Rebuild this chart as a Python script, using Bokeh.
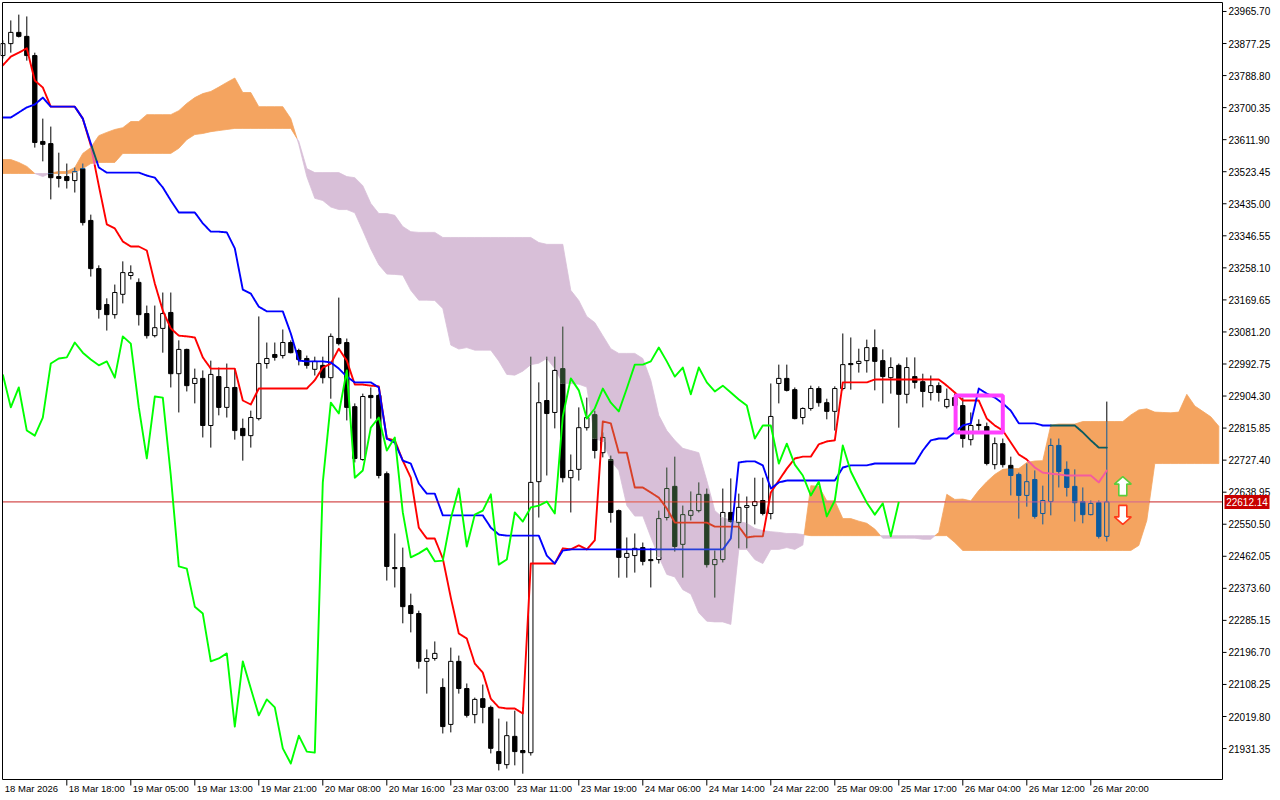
import numpy as np
from bokeh.plotting import figure
from bokeh.models import Range1d
from bokeh.embed import file_html
from bokeh.resources import INLINE
from bokeh.core.properties import value

# ---------------- data (H1 bars, index 0 = 18 Mar 2026) ----------------
opens = [23844, 23877, 23908, 23897, 23844, 23607, 23601, 23510, 23510, 23499,
         23532, 23389, 23256, 23157, 23129, 23185, 23237, 23218, 23132, 23071,
         23091, 23135, 22966, 23033, 22939, 22953, 22823, 22958, 22873, 22928,
         22815, 22795, 22842, 22994, 23019, 23016, 23052, 23030, 23008, 22978,
         22989, 22955, 23063, 23052, 22875, 22729, 22906, 22906, 22690, 22431,
         22431, 22326, 22304, 22172, 22180, 22100, 21998, 22172, 22097, 22025,
         22069, 22045, 21923, 21887, 21965, 21926, 21920, 22668, 22892, 22859,
         22980, 22679, 22702, 22817, 22853, 22748, 22729, 22588, 22459, 22464,
         22486, 22453, 22453, 22569, 22655, 22495, 22575, 22588, 22633, 22439,
         22453, 22583, 22555, 22597, 22602, 22616, 22580, 22939, 22953, 22922,
         22845, 22870, 22925, 22886, 22862, 22925, 22994, 22994, 23002, 23038,
         23002, 22955, 22989, 22909, 22958, 22944, 22914, 22933, 22875, 22900,
         22878, 22784, 22826, 22820, 22715, 22773, 22713, 22688, 22630, 22674,
         22580, 22613, 22768, 22702, 22655, 22613, 22577, 22610, 22517]
highs = [23886, 23941, 23957, 23952, 23852, 23670, 23648, 23576, 23546, 23535,
         23546, 23405, 23265, 23174, 23212, 23276, 23265, 23229, 23154, 23154,
         23190, 23190, 23058, 23035, 22980, 22975, 23002, 22983, 22994, 22980,
         22842, 22864, 23124, 23052, 23052, 23088, 23058, 23035, 23016, 23013,
         23013, 23077, 23176, 23063, 22884, 22911, 22928, 22911, 22696, 22525,
         22486, 22359, 22312, 22205, 22227, 22125, 22210, 22188, 22111, 22072,
         22108, 22050, 22014, 22006, 22036, 22045, 23013, 22942, 23013, 23013,
         23096, 22743, 22873, 22900, 22864, 22804, 22740, 22591, 22514, 22525,
         22500, 22484, 22588, 22707, 22737, 22602, 22641, 22666, 22649, 22478,
         22649, 22677, 22635, 22627, 22679, 22679, 22939, 22991, 22991, 22928,
         22873, 22933, 22931, 22897, 22931, 23077, 23066, 23035, 23060, 23088,
         23033, 23011, 22994, 23011, 23011, 22966, 22961, 22942, 22925, 22911,
         22900, 22859, 22840, 22831, 22790, 22787, 22737, 22693, 22718, 22699,
         22657, 22787, 22787, 22724, 22702, 22652, 22616, 22616, 22889]
lows = [23836, 23852, 23894, 23830, 23590, 23552, 23447, 23480, 23477, 23466,
        23375, 23234, 23118, 23085, 23118, 23160, 23226, 23099, 23063, 23066,
        23024, 22928, 22859, 22917, 22884, 22790, 22762, 22851, 22845, 22784,
        22726, 22762, 22837, 22980, 23002, 23008, 23022, 22989, 22980, 22961,
        22939, 22897, 23044, 22837, 22721, 22726, 22842, 22677, 22395, 22376,
        22277, 22252, 22152, 22083, 22174, 21973, 21976, 22083, 22017, 22001,
        22001, 21918, 21871, 21876, 21885, 21862, 21912, 22569, 22685, 22815,
        22666, 22583, 22671, 22809, 22732, 22735, 22555, 22403, 22403, 22417,
        22437, 22376, 22442, 22561, 22475, 22403, 22561, 22583, 22431, 22348,
        22445, 22555, 22484, 22484, 22550, 22575, 22564, 22884, 22917, 22840,
        22826, 22864, 22875, 22840, 22809, 22920, 22922, 22969, 22969, 22920,
        22884, 22911, 22817, 22884, 22925, 22873, 22892, 22889, 22870, 22870,
        22762, 22768, 22809, 22713, 22702, 22707, 22630, 22566, 22599, 22566,
        22550, 22575, 22652, 22627, 22558, 22553, 22575, 22511, 22503]
closes = [23877, 23908, 23897, 23844, 23604, 23599, 23507, 23505, 23499, 23524,
          23383, 23256, 23143, 23129, 23190, 23245, 23245, 23129, 23071, 23093,
          23132, 22966, 23033, 22933, 22953, 22823, 22964, 22873, 22928, 22809,
          22795, 22845, 22994, 23008, 23011, 23052, 23024, 23005, 22989, 23000,
          22955, 23069, 23049, 22873, 22732, 22903, 22900, 22685, 22434, 22428,
          22323, 22304, 22172, 22180, 22194, 21992, 22172, 22097, 22023, 22067,
          22045, 21932, 21890, 21967, 21923, 21920, 22666, 22886, 22856, 22975,
          22679, 22699, 22817, 22845, 22754, 22790, 22583, 22459, 22470, 22484,
          22448, 22450, 22566, 22649, 22489, 22577, 22588, 22633, 22439, 22453,
          22583, 22558, 22597, 22602, 22613, 22580, 22848, 22953, 22920, 22842,
          22870, 22925, 22886, 22862, 22925, 22991, 22991, 23000, 23038, 23000,
          22958, 22983, 22909, 22983, 22942, 22917, 22933, 22914, 22895, 22878,
          22787, 22823, 22823, 22718, 22773, 22715, 22685, 22630, 22668, 22572,
          22616, 22768, 22696, 22652, 22610, 22577, 22608, 22517, 22612.14]
tenkan = [23817, 23841, 23852, 23864, 23775, 23756, 23703, 23703, 23703, 23703,
          23670, 23596, 23485, 23378, 23367, 23331, 23317, 23317, 23306, 23215,
          23140, 23091, 23071, 23069, 23066, 23011, 22980, 22980, 22980, 22980,
          22892, 22881, 22925, 22925, 22925, 22925, 22925, 22925, 22925, 22948,
          22983, 22994, 23035, 23002, 22936, 22936, 22933, 22931, 22787, 22782,
          22726, 22679, 22541, 22511, 22511, 22456, 22348, 22249, 22235, 22166,
          22141, 22069, 22045, 22042, 22042, 22028, 22442, 22442, 22442, 22442,
          22484, 22481, 22492, 22481, 22506, 22834, 22829, 22748, 22748, 22652,
          22652, 22638, 22624, 22594, 22555, 22555, 22555, 22555, 22555, 22544,
          22544, 22544, 22544, 22514, 22517, 22517, 22638, 22671, 22704, 22732,
          22737, 22737, 22771, 22779, 22782, 22942, 22942, 22942, 22942, 22950,
          22950, 22950, 22950, 22950, 22950, 22950, 22950, 22950, 22933, 22914,
          22892, 22892, 22892, 22842, 22823, 22809, 22776, 22743, 22729, 22707,
          22693, 22690, 22688, 22685, 22685, 22685, 22685, 22666, 22699]
kijun = [23673, 23673, 23687, 23701, 23709, 23728, 23703, 23703, 23703, 23703,
         23670, 23601, 23535, 23521, 23521, 23521, 23521, 23521, 23513, 23507,
         23480, 23444, 23411, 23411, 23411, 23381, 23358, 23358, 23356, 23312,
         23198, 23187, 23151, 23138, 23138, 23138, 23077, 23002, 23000, 23000,
         23000, 22997, 22980, 22958, 22942, 22942, 22942, 22928, 22787, 22776,
         22726, 22718, 22663, 22635, 22635, 22575, 22575, 22575, 22575, 22575,
         22575, 22541, 22522, 22519, 22519, 22519, 22519, 22519, 22464, 22442,
         22478, 22481, 22481, 22481, 22481, 22481, 22481, 22481, 22481, 22481,
         22481, 22481, 22481, 22481, 22481, 22481, 22481, 22481, 22481, 22481,
         22481, 22511, 22721, 22724, 22724, 22713, 22649, 22666, 22671, 22671,
         22671, 22671, 22671, 22671, 22671, 22707, 22713, 22713, 22713, 22718,
         22718, 22718, 22718, 22718, 22718, 22754, 22782, 22787, 22787, 22804,
         22823, 22829, 22925, 22911, 22900, 22884, 22864, 22829, 22829, 22829,
         22823, 22823, 22823, 22823, 22823, 22804, 22782, 22762, 22762]
# Senkou spans, already displaced 26 bars forward (153 positions)
span_a = [23557, 23557, 23549, 23538, 23518.5, 23510, 23520, 23524, 23524, 23535,
          23574, 23590, 23623, 23632, 23640, 23645, 23662, 23662, 23681, 23681,
          23681, 23681, 23692, 23712, 23728, 23739, 23745, 23757, 23770, 23782,
          23742, 23742, 23703, 23703, 23703, 23703, 23670, 23599, 23510, 23450,
          23444, 23426, 23419, 23419, 23410, 23361, 23310, 23267, 23241, 23240,
          23238, 23196, 23169, 23169, 23168, 23146, 23045, 23034, 23038, 23031,
          23031, 23031, 23001, 22964, 22962, 22973, 22991, 22995, 23008, 22980,
          22939, 22939, 22937, 22929, 22787, 22779, 22726, 22699, 22602, 22573,
          22573, 22515, 22461, 22412, 22405, 22370, 22358, 22306, 22283, 22281,
          22281, 22274, 22481, 22481, 22453, 22442, 22481, 22481, 22486, 22481,
          22493, 22657, 22655, 22615, 22615, 22566, 22566, 22559, 22553, 22537,
          22512, 22512, 22512, 22512, 22512, 22509, 22509, 22528, 22633, 22619,
          22620, 22615, 22644, 22668, 22688, 22702, 22704, 22704, 22721, 22725,
          22726, 22824, 22827, 22827, 22827, 22834, 22834, 22834, 22834, 22834,
          22834, 22852, 22866, 22869, 22860, 22859, 22858, 22860, 22909, 22877,
          22862, 22847, 22821]
span_b = [23518.5, 23518.5, 23518.5, 23518.5, 23518.5, 23518.5, 23518.5, 23518.5, 23518.5, 23521,
          23532, 23546, 23549, 23549, 23549, 23574, 23574, 23574, 23574, 23574,
          23574, 23574, 23588, 23612, 23626, 23629, 23634, 23637, 23640, 23643,
          23643, 23643, 23643, 23643, 23643, 23643, 23643, 23607, 23532, 23521,
          23521, 23521, 23521, 23510, 23507, 23485, 23436, 23408, 23408, 23403,
          23372, 23358, 23356, 23356, 23356, 23342, 23342, 23342, 23342, 23342,
          23342, 23342, 23342, 23342, 23342, 23342, 23342, 23328, 23323, 23323,
          23323, 23196, 23168, 23124, 23107, 23071, 23035, 23022, 23022, 23022,
          23008, 22948, 22851, 22809, 22782, 22760, 22754, 22748, 22671, 22588,
          22569, 22561, 22558, 22553, 22539, 22533, 22530, 22528, 22525, 22525,
          22522, 22519, 22519, 22519, 22519, 22519, 22519, 22519, 22519, 22519,
          22519, 22519, 22519, 22519, 22519, 22519, 22519, 22519, 22519, 22500,
          22478, 22478, 22478, 22478, 22478, 22478, 22478, 22478, 22478, 22478,
          22478, 22478, 22478, 22478, 22478, 22478, 22478, 22478, 22478, 22478,
          22478, 22478, 22492, 22561, 22718, 22718, 22718, 22718, 22718, 22718,
          22718, 22718, 22718]
chikou_shift = 26
last_price = 22612.14
y_ticks = [23965.70, 23877.25, 23788.80, 23700.35, 23611.90, 23523.45, 23435.00, 23346.55,
           23258.10, 23169.65, 23081.20, 22992.75, 22904.30, 22815.85, 22727.40, 22638.95,
           22550.50, 22462.05, 22373.60, 22285.15, 22196.70, 22108.25, 22019.80, 21931.35]
x_labels = ["18 Mar 2026", "18 Mar 18:00", "19 Mar 05:00", "19 Mar 13:00", "19 Mar 21:00",
            "20 Mar 08:00", "20 Mar 16:00", "23 Mar 03:00", "23 Mar 11:00", "23 Mar 19:00",
            "24 Mar 06:00", "24 Mar 14:00", "24 Mar 22:00", "25 Mar 09:00", "25 Mar 17:00",
            "26 Mar 04:00", "26 Mar 12:00", "26 Mar 20:00"]
x_label_bars = [0, 8, 16, 24, 32, 40, 48, 56, 64, 72, 80, 88, 96, 104, 112, 120, 128, 136]
# pattern box (bars / prices) and signal arrows (bar, tip price)
box_bars = (119.1, 125.0)
box_prices = (22804, 22906)
up_arrow = (140, 22682)
down_arrow = (140, 22550)

# ---------------- layout / styling ----------------
ORANGE = "#F4A460"
THISTLE = "#D8BFD8"
FONT = "Liberation Sans"
W, H = 1276, 798          # canvas
PX_BAR = 8.0              # pixels per bar
BAR0_PX = 2.3             # pixel position of bar 0
TOP_PRICE = 23996.0       # price at canvas top
PX_PRICE = 2.76           # price units per pixel


def bx(px):               # canvas pixel -> bar coordinate (layout helper)
    return (px - BAR0_PX) / PX_BAR


def py(px):               # canvas pixel (from top) -> price coordinate (layout helper)
    return TOP_PRICE - PX_PRICE * px


XL, XA = bx(2), bx(1222)  # chart area left edge / price-axis line
YT, YB = py(2), py(779)   # chart area top / time-axis line


def xor_hex(c, cloud):
    """MT5 paints the cloud in XOR mode: emulate the colour of marks lying inside it."""
    ci = int(c[1:], 16)
    k = int(cloud[1:], 16) ^ 0xFFFFFF
    return "#%06X" % (ci ^ k)


A = np.array(span_a, float)
B = np.array(span_b, float)
cloud_x = np.arange(len(A), dtype=float)

p = figure(width=W, height=H, x_range=Range1d(bx(0), bx(W)), y_range=Range1d(py(H), py(0)),
           x_axis_type=None, y_axis_type=None, output_backend="svg", toolbar_location=None,
           min_border_left=0, min_border_top=0, min_border_right=0, min_border_bottom=0,
           background_fill_color="white", border_fill_color="white")
p.xgrid.visible = False
p.ygrid.visible = False
p.outline_line_color = None

# ---------------- cloud ----------------
patch_xs, patch_ys, patch_cols = [], [], []


def flush(xr, ar, br, s):
    if len(xr) >= 2 and s != 0:
        patch_xs.append(list(xr) + list(xr[::-1]))
        patch_ys.append(list(ar) + list(br[::-1]))
        patch_cols.append(ORANGE if s > 0 else THISTLE)


d = A - B
s_cur = np.sign(d[0])
xr, ar, br = [0.0], [A[0]], [B[0]]
for i in range(1, len(A)):
    s_new = np.sign(d[i])
    if s_new != 0 and s_new != s_cur:
        t = d[i - 1] / (d[i - 1] - d[i]) if d[i - 1] != d[i] else 0.0
        xc = (i - 1) + t
        yc = A[i - 1] + t * (A[i] - A[i - 1])
        xr.append(xc); ar.append(yc); br.append(yc)
        flush(xr, ar, br, s_cur)
        xr, ar, br = [xc], [yc], [yc]
        s_cur = s_new
    xr.append(float(i)); ar.append(A[i]); br.append(B[i])
flush(xr, ar, br, s_cur)
p.patches(patch_xs, patch_ys, fill_color=patch_cols, line_color=patch_cols, line_width=0.8)


# ---------------- candles ----------------
def pieces(y0, y1, lo, hi):
    res = []
    if y0 < lo:
        res.append((y0, min(y1, lo), False))
    a_, b_ = max(y0, lo), min(y1, hi)
    if b_ > a_:
        res.append((a_, b_, True))
    if y1 > hi:
        res.append((max(y0, hi), y1, False))
    return res


HW = 0.27
wk = dict(x0=[], y0=[], x1=[], y1=[], c=[])
bd = dict(l=[], r=[], t=[], b=[], c=[])
ol = dict(x0=[], y0=[], x1=[], y1=[], c=[])
for i in range(len(closes)):
    o, h, l, c = opens[i], highs[i], lows[i], closes[i]
    lo, hi = min(A[i], B[i]), max(A[i], B[i])
    ccol = ORANGE if A[i] > B[i] else THISTLE
    ink_in = xor_hex("#000000", ccol)
    bull = c > o
    top, bot = max(o, c), min(o, c)
    for ya, yb, ins in pieces(l, h, lo, hi):
        wk["x0"].append(i); wk["x1"].append(i); wk["y0"].append(ya); wk["y1"].append(yb)
        wk["c"].append(ink_in if ins else "#000000")
    for ya, yb, ins in pieces(bot, top, lo, hi):
        bd["l"].append(i - HW); bd["r"].append(i + HW); bd["b"].append(ya); bd["t"].append(yb)
        if bull:
            bd["c"].append(ccol if ins else "#FFFFFF")
        else:
            bd["c"].append(ink_in if ins else "#000000")
        for xx in (i - HW, i + HW):
            ol["x0"].append(xx); ol["x1"].append(xx); ol["y0"].append(ya); ol["y1"].append(yb)
            ol["c"].append(ink_in if ins else "#000000")
    for yy in (top, bot):
        ins = lo <= yy <= hi and hi > lo
        ol["x0"].append(i - HW); ol["x1"].append(i + HW); ol["y0"].append(yy); ol["y1"].append(yy)
        ol["c"].append(ink_in if ins else "#000000")

p.segment(x0=wk["x0"], y0=wk["y0"], x1=wk["x1"], y1=wk["y1"], line_color=wk["c"], line_width=1)
p.quad(left=bd["l"], right=bd["r"], top=bd["t"], bottom=bd["b"], fill_color=bd["c"], line_alpha=0)
p.segment(x0=ol["x0"], y0=ol["y0"], x1=ol["x1"], y1=ol["y1"], line_color=ol["c"], line_width=1)


# ---------------- lines, XOR-coloured where they run inside the cloud ----------------
def xor_runs(xs, ys, base, sub=8):
    out_x, out_y, out_c = [], [], []
    cur_c, rx, ry = None, [], []
    for j in range(len(xs) - 1):
        for k in range(sub):
            t0, t1, tm = k / sub, (k + 1) / sub, (k + 0.5) / sub
            xa = xs[j] + (xs[j + 1] - xs[j]) * t0
            xb = xs[j] + (xs[j + 1] - xs[j]) * t1
            ya = ys[j] + (ys[j + 1] - ys[j]) * t0
            yb = ys[j] + (ys[j + 1] - ys[j]) * t1
            xm = xs[j] + (xs[j + 1] - xs[j]) * tm
            ym = ys[j] + (ys[j + 1] - ys[j]) * tm
            col = base
            if 0 <= xm <= cloud_x[-1]:
                a = np.interp(xm, cloud_x, A)
                b = np.interp(xm, cloud_x, B)
                if min(a, b) <= ym <= max(a, b):
                    col = xor_hex(base, ORANGE if a > b else THISTLE)
            if col != cur_c:
                if len(rx) > 1:
                    out_x.append(rx); out_y.append(ry); out_c.append(cur_c)
                rx, ry, cur_c = [xa], [ya], col
            rx.append(xb); ry.append(yb)
    if len(rx) > 1:
        out_x.append(rx); out_y.append(ry); out_c.append(cur_c)
    return out_x, out_y, out_c


bars = list(range(len(closes)))
for vals, base in ((tenkan, "#FF0000"), (kijun, "#0000FF")):
    lx, ly, lc = xor_runs(bars, vals, base)
    p.multi_line(lx, ly, line_color=lc, line_width=1.9, line_join="round", line_cap="round")

lx, ly, lc = xor_runs([XL, XA], [last_price, last_price], "#C00000", sub=1220)
p.multi_line(lx, ly, line_color=lc, line_width=1)

# Chikou span: closes displaced 26 bars back
ch_x = [i - chikou_shift for i in range(chikou_shift, len(closes))]
ch_y = closes[chikou_shift:]
p.line(ch_x, ch_y, line_color="#00FF00", line_width=1.9, line_join="round")

# pattern box
p.quad(left=[box_bars[0]], right=[box_bars[1]], bottom=[box_prices[0]], top=[box_prices[1]],
       fill_alpha=0, line_color="#FF40FF", line_width=4)


# signal arrows (outlined)
def arrow(bar, tip, up):
    pts = [(0, 0), (8.5, 7.5), (4, 7.5), (4, 19), (-4, 19), (-4, 7.5), (-8.5, 7.5)]
    s = 1 if up else -1
    return ([bar + dx / PX_BAR for dx, dy in pts], [tip - s * dy * PX_PRICE for dx, dy in pts])


ux, uy = arrow(up_arrow[0], up_arrow[1], True)
dx_, dy_ = arrow(down_arrow[0], down_arrow[1], False)
p.patches([ux, dx_], [uy, dy_], fill_color="white", line_color=["#5CCC3A", "#FF3A1A"], line_width=1.6)

# ---------------- chart frame and axes (MT5 style) ----------------
p.quad(left=[XL], right=[XA], top=[YT], bottom=[YB], fill_alpha=0, line_color="black", line_width=1)

# price axis on the right
p.segment(x0=[XA] * len(y_ticks), x1=[bx(1226)] * len(y_ticks), y0=y_ticks, y1=y_ticks,
          line_color="black", line_width=1)
p.text(x=[bx(1228)] * len(y_ticks), y=y_ticks, text=["%.2f" % v for v in y_ticks],
       text_font=value(FONT), text_font_size="10px", text_align="left", text_baseline="middle",
       text_color="black")

# time axis at the bottom
tick_bars = x_label_bars[1:]
p.segment(x0=tick_bars, x1=tick_bars, y0=[YB] * len(tick_bars), y1=[py(785)] * len(tick_bars),
          line_color="black", line_width=1)
lab_x = [max(b + 2 / PX_BAR, bx(3)) for b in x_label_bars]
p.text(x=lab_x, y=[py(787.5)] * len(x_labels), text=x_labels,
       text_font=value(FONT), text_font_size="9.5px", text_align="left", text_baseline="middle",
       text_color="black")

# last-price tag on the price axis
p.quad(left=[bx(1224)], right=[bx(1269)], top=[last_price + 7 * PX_PRICE],
       bottom=[last_price - 7 * PX_PRICE], fill_color="#C80000", line_alpha=0)
p.text(x=[bx(1246.5)], y=[last_price], text=["%.2f" % last_price], text_font=value(FONT),
       text_font_size="10px", text_align="center", text_baseline="middle", text_color="white")

open("out.html", "w").write(file_html(p, INLINE))
